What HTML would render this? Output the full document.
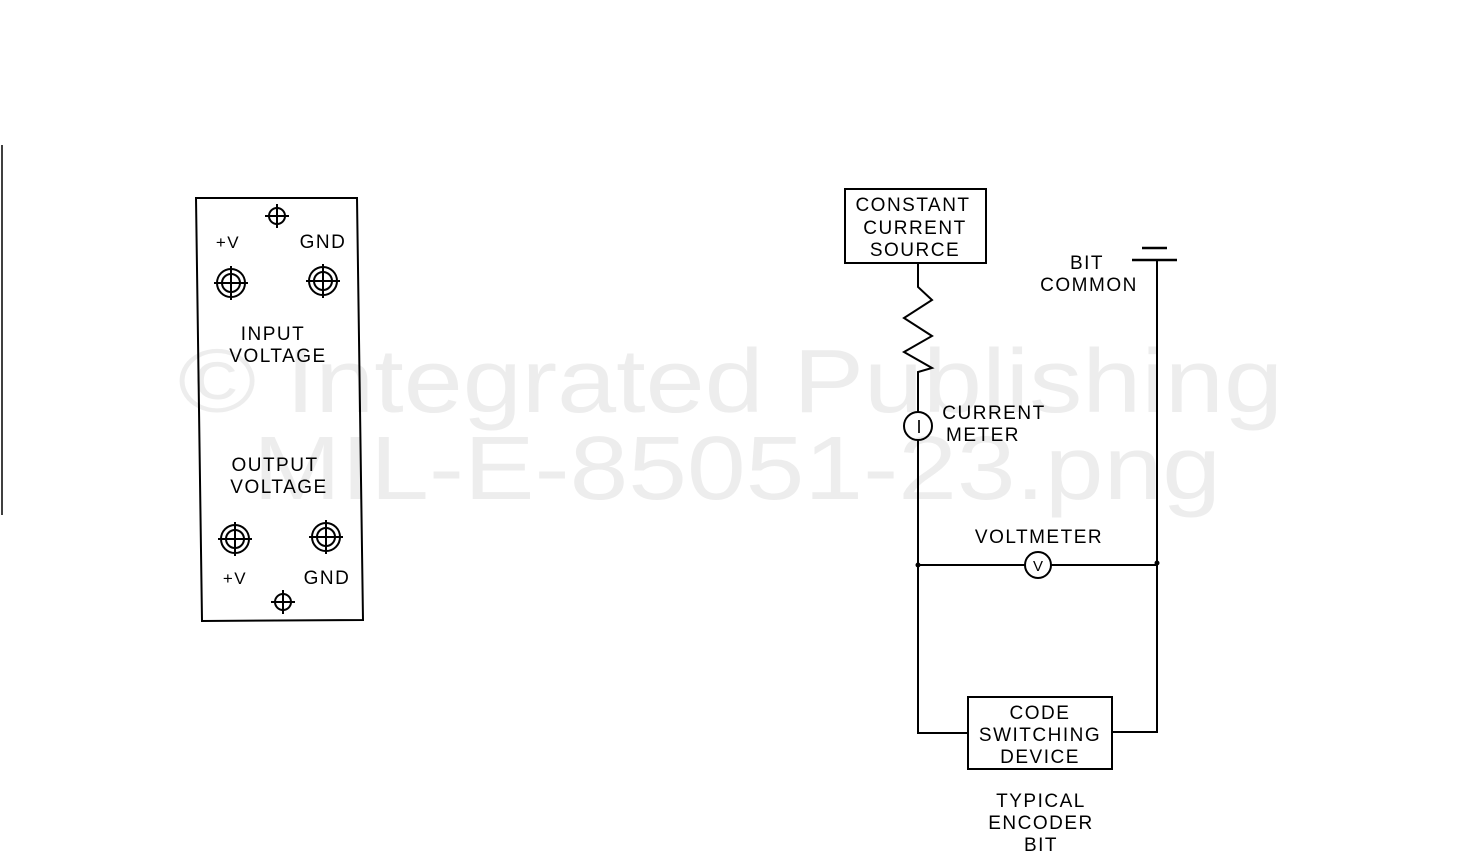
<!DOCTYPE html>
<html><head><style>body{margin:0;background:#fff}svg{display:block}</style></head><body>
<svg width="1469" height="851" viewBox="0 0 1469 851" xmlns="http://www.w3.org/2000/svg">
<g font-family="Liberation Sans, sans-serif" fill="#ededed" font-size="90">
<text x="178" y="412" textLength="1105" lengthAdjust="spacingAndGlyphs">© Integrated Publishing</text>
<text x="253" y="499" textLength="968" lengthAdjust="spacingAndGlyphs">MIL-E-85051-23.png</text>
</g>
<line x1="2" y1="145" x2="2" y2="515" stroke="#000" stroke-width="1.5"/>
<g stroke="#000" stroke-width="2" fill="none">
<polygon points="196,198 357,198 363,620 202,621"/>
<circle cx="277" cy="216" r="8"/><path d="M277,204V228M265,216H289"/>
<circle cx="283" cy="602" r="8"/><path d="M283,590V614M271,602H295"/>
<g id="c"><circle cx="231" cy="283" r="14"/><circle cx="231" cy="283" r="9"/><path d="M231,266V300M214,283H248"/></g>
<use href="#c" x="92" y="-2"/><use href="#c" x="4" y="256"/><use href="#c" x="95" y="254"/>
<rect x="845" y="189" width="141" height="74"/>
<path d="M918,263V287L932,300L904,318L932,336L904,352L932,368L918,372V412"/>
<circle cx="918" cy="426" r="14"/>
<path d="M918,440V733H968"/>
<path d="M918,565H1025M1051,565H1157"/>
<circle cx="1038" cy="565" r="13"/>
<path d="M1157,260V732H1112"/>
<path d="M1132,260H1177M1142,248H1167" stroke-width="2.5"/>
<rect x="968" y="697" width="144" height="72"/>
</g>
<circle cx="918" cy="565" r="2.5"/><circle cx="1157" cy="563" r="2.5"/>
<g font-family="Liberation Sans, sans-serif" font-size="19" letter-spacing="1.5" text-anchor="middle" fill="#000">
<text x="228" y="248" font-size="17">+V</text><text x="323" y="248">GND</text>
<text x="273" y="340">INPUT</text><text x="278" y="362">VOLTAGE</text>
<text x="275" y="471">OUTPUT</text><text x="279" y="493">VOLTAGE</text>
<text x="235" y="584" font-size="17">+V</text><text x="327" y="584">GND</text>
<text x="913" y="211">CONSTANT</text><text x="915" y="234">CURRENT</text><text x="915" y="256">SOURCE</text>
<text x="919" y="433" font-size="18" letter-spacing="0">I</text>
<text x="994" y="419">CURRENT</text><text x="983" y="441">METER</text>
<text x="1039" y="543">VOLTMETER</text>
<text x="1038" y="571" font-size="15" letter-spacing="0">V</text>
<text x="1087" y="269">BIT</text><text x="1089" y="291">COMMON</text>
<text x="1040" y="719">CODE</text><text x="1040" y="741">SWITCHING</text><text x="1040" y="763">DEVICE</text>
<text x="1041" y="807">TYPICAL</text><text x="1041" y="829">ENCODER</text><text x="1041" y="851">BIT</text>
</g>
</svg>
</body></html>
